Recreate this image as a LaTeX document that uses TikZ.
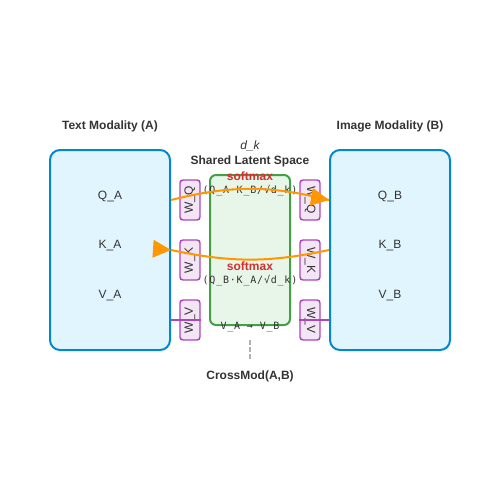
\documentclass[tikz,border=0pt]{standalone}
\usepackage{fontspec}
\setmainfont{Liberation Sans}
\newfontfamily\formulafont[LetterSpace=8]{DejaVu Sans Mono}

\definecolor{modfill}{HTML}{E1F5FE}
\definecolor{modline}{HTML}{0288D1}
\definecolor{latfill}{HTML}{E8F5E9}
\definecolor{latline}{HTML}{43A047}
\definecolor{wfill}{HTML}{F3E5F5}
\definecolor{wline}{HTML}{AB47BC}
\definecolor{attn}{HTML}{FF9800}
\definecolor{smred}{HTML}{D32F2F}
\definecolor{txt}{HTML}{333333}

\tikzset{every picture/.style={line width=0.75pt},
  modbox/.style={draw=modline, fill=modfill, line width=1.5pt, rounded corners=7.5pt, minimum width=90pt, minimum height=150pt},
  latbox/.style={draw=latline, fill=latfill, line width=1.5pt, rounded corners=4.5pt, minimum width=60pt, minimum height=112.5pt},
  wbox/.style={draw=wline, fill=wfill, line width=1.1pt, rounded corners=2.25pt, minimum width=30pt, minimum height=15pt, inner sep=0pt, text=txt, font=\fontsize{9}{10}\selectfont},
  lbl/.style={text=txt, font=\fontsize{9}{10}\selectfont},
  ttl/.style={text=txt, font=\bfseries\fontsize{9}{10}\selectfont},
  formula/.style={text=txt, font=\formulafont\fontsize{7.5}{8}\selectfont},
  attnline/.style={draw=attn, line width=1.5pt},
  vline/.style={draw=wline, line width=1.1pt}
}

\begin{document}
\begin{tikzpicture}[x=0.75pt,y=0.75pt,yscale=-1,xscale=1]
\useasboundingbox (0,0) rectangle (500,500);

%Shape: Rounded Rectangles
\node[modbox] (modA) at (110,250) {};
\node[modbox] (modB) at (390,250) {};
\node[latbox] (latent) at (250,250) {};

%Projection boxes
\node[wbox, rotate=90] (wqA) at (190,200) {W\_Q};
\node[wbox, rotate=90] (wkA) at (190,260) {W\_K};
\node[wbox, rotate=90] (wvA) at (190,320) {W\_V};
\node[wbox, rotate=-90] (wqB) at (310,200) {W\_Q};
\node[wbox, rotate=-90] (wkB) at (310,260) {W\_K};
\node[wbox, rotate=-90] (wvB) at (310,320) {W\_V};

%Straight Lines
\draw[vline] (modA.east |- wvA) -- (wvA.south);
\draw[vline] (wvB.south) -- (modB.west |- wvB);

% Text Node
\node[lbl] (qa) at (110,196) {Q\_A};
\node[lbl] (ka) at (110,246) {K\_A};
\node[lbl] (va) at (110,296) {V\_A};
\node[lbl] (qb) at (390,196) {Q\_B};
\node[lbl] (kb) at (390,246) {K\_B};
\node[lbl] (vb) at (390,296) {V\_B};
% Text Node
\node[ttl] (titleA) at (110,126) {Text Modality (A)};
\node[ttl] (titleB) at (390,126) {Image Modality (B)};
\node[lbl, font=\itshape\fontsize{9}{10}\selectfont] (dk) at (250,146) {d\_k};
\node[ttl] (shared) at (250,161) {Shared Latent Space};
\node[ttl, text=smred] (smAB) at (250,176) {softmax};
\node[formula] (fAB) at (250,191) {(Q\_A·K\_B/√d\_k)};
\node[ttl, text=smred] (smBA) at (250,266) {softmax};
\node[formula] (fBA) at (250,281) {(Q\_B·K\_A/√d\_k)};
\node[formula] (vmap) at (250,327) {V\_A → V\_B};
\node[ttl] (cross) at (250,376) {CrossMod(A,B)};

%Dashed Line
\coordinate (dtop) at (250,340);
\coordinate (dbot) at (250,360);
\draw[gray!60, line width=1.5pt, dash pattern=on 3.75pt off 1.5pt] (dtop) -- (dbot);

%Curved Arrows
\coordinate (qaEnd) at (modA.east |- wqA);
\coordinate (qbEnd) at (modB.west |- wqB);
\coordinate (kaEnd) at (modA.east |- 0,250);
\coordinate (kbEnd) at (modB.west |- 0,250);
\draw[attnline] (qaEnd) to[bend right=14] (qbEnd);
\draw [shift={(qbEnd)}, rotate = 190] [fill=attn][draw opacity=0] (18,-9) -- (0,0) -- (18,9) -- cycle ;
\draw[attnline] (kbEnd) to[bend right=12] (kaEnd);
\draw [shift={(kaEnd)}, rotate = 184] [fill=attn][draw opacity=0] (18,-9) -- (0,0) -- (18,9) -- cycle ;

\end{tikzpicture}
\end{document}
